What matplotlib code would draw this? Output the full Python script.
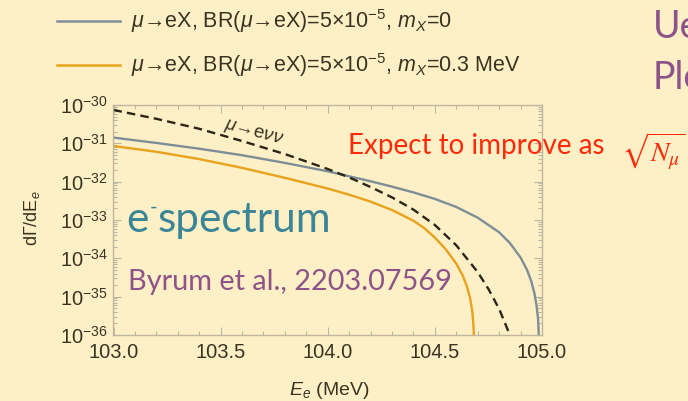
import matplotlib
matplotlib.use("Agg")
import matplotlib.pyplot as plt
import numpy as np
from matplotlib.lines import Line2D
from matplotlib.ticker import MultipleLocator, LogLocator, FormatStrFormatter, NullFormatter

# electron energy (MeV) and log10(dGamma/dE)
E_gray = [103.0, 103.2, 103.4, 103.6, 103.8, 104.0, 104.1, 104.2, 104.3, 104.4, 104.5,
          104.6, 104.7, 104.8, 104.85, 104.9, 104.93, 104.95, 104.965, 104.975, 104.982, 104.986]
logy_gray = [-30.85, -30.99, -31.14, -31.31, -31.51, -31.73, -31.86, -31.99, -32.13, -32.28, -32.45,
             -32.66, -32.94, -33.32, -33.60, -33.98, -34.30, -34.60, -34.92, -35.25, -35.6, -36.2]

E_orange = [103.0, 103.2, 103.4, 103.6, 103.8, 104.0, 104.1, 104.2, 104.3, 104.4, 104.45,
            104.5, 104.55, 104.6, 104.63, 104.65, 104.665, 104.675, 104.68, 104.684]
logy_orange = [-31.07, -31.22, -31.41, -31.64, -31.90, -32.18, -32.34, -32.52, -32.74, -33.02, -33.21,
               -33.46, -33.76, -34.14, -34.45, -34.74, -35.05, -35.40, -35.75, -36.3]

E_dio = [103.0, 103.2, 103.4, 103.6, 103.8, 104.0, 104.1, 104.2, 104.3, 104.4, 104.5,
         104.6, 104.7, 104.75, 104.8, 104.85, 104.86]
logy_dio = [-30.13, -30.36, -30.62, -30.94, -31.28, -31.67, -31.89, -32.14, -32.41, -32.73, -33.13,
            -33.66, -34.36, -34.80, -35.32, -36.0, -36.15]

legend_labels = [r"$\mu$→eX, BR($\mu$→eX)=5×10$^{-5}$, $m_X$=0",
                 r"$\mu$→eX, BR($\mu$→eX)=5×10$^{-5}$, $m_X$=0.3 MeV"]

bg = "#FEF0C6"
ink = "#3A3322"
frame = "#BDB6A0"
c_gray = "#7D8E97"
c_orange = "#E9A21C"
c_dash = "#2A2517"
teal = "#3B8597"
purple = "#8E5388"
red = "#FF2A0A"

plt.rcParams["font.family"] = ["Liberation Sans", "DejaVu Sans"]
plt.rcParams["mathtext.fontset"] = "custom"
plt.rcParams["mathtext.rm"] = "Liberation Sans"
plt.rcParams["mathtext.it"] = "Liberation Sans:italic"
plt.rcParams["mathtext.bf"] = "Liberation Sans:bold"

W, H = 688, 401
fig = plt.figure(figsize=(W / 100, H / 100), dpi=100)
fig.patch.set_facecolor(bg)


def fx(px):
    return px / W


def fy(py):
    return 1 - py / H


ax_l, ax_r, ax_t, ax_b = 113.5, 542, 105, 335
ax = fig.add_axes([fx(ax_l), fy(ax_b), (ax_r - ax_l) / W, (ax_b - ax_t) / H])
ax.set_facecolor(bg)

ax.plot(E_gray, 10.0 ** np.array(logy_gray), color=c_gray, lw=1.7)
ax.plot(E_orange, 10.0 ** np.array(logy_orange), color=c_orange, lw=1.7)
ax.plot(E_dio, 10.0 ** np.array(logy_dio), color=c_dash, lw=1.7, linestyle=(0, (3.6, 2.2)))

ax.set_yscale("log")
ax.set_xlim(103.0, 105.0)
ax.set_ylim(1e-36, 1e-30)

ax.xaxis.set_major_locator(MultipleLocator(0.5))
ax.xaxis.set_minor_locator(MultipleLocator(0.1))
ax.xaxis.set_major_formatter(FormatStrFormatter("%.1f"))
ax.yaxis.set_major_locator(LogLocator(base=10, numticks=20))
ax.yaxis.set_minor_locator(LogLocator(base=10, subs=np.arange(2, 10), numticks=20))
ax.yaxis.set_minor_formatter(NullFormatter())

ax.tick_params(which="both", direction="in", top=True, right=True, color=frame,
               width=0.8, labelsize=14.5, labelcolor=ink)
ax.tick_params(which="major", length=5.5)
ax.tick_params(which="minor", length=3)
ax.tick_params(axis="x", pad=6)
ax.tick_params(axis="y", pad=4)
for sp in ax.spines.values():
    sp.set_color(frame)
    sp.set_linewidth(1.0)

# curve label on the dashed line
ax.text(103.655, 10 ** -30.74, r"$\mu$→e$\nu\nu$", rotation=-15, ha="center", va="center",
        fontsize=13.5, color=ink)

fig.text(fx(32), fy(218), r"d$\Gamma$/dE$_e$", rotation=90, ha="center", va="center",
         fontsize=13, color=ink)
fig.text(fx(329), fy(395), r"$E_e$ (MeV)", ha="center", va="baseline", fontsize=14, color=ink)

# legend
for i, (col, lab) in enumerate(zip([c_gray, c_orange], legend_labels)):
    yl = 21.3 + 44 * i
    fig.add_artist(Line2D([fx(57), fx(120)], [fy(yl), fy(yl)], color=col, lw=1.8,
                          transform=fig.transFigure))
    fig.text(fx(131), fy(yl + 7), lab, ha="left", va="baseline", fontsize=15.5, color=ink)

# slide annotations
fig.text(fx(126), fy(231.7), "e", fontsize=30.5, color=teal, family="Lato", va="baseline")
fig.text(fx(150), fy(214), "-", fontsize=15, color=teal, family="Lato", va="baseline")
fig.text(fx(158), fy(231.7), "spectrum", fontsize=30.5, color=teal, family="Lato", va="baseline")
fig.text(fx(128), fy(290), "Byrum et al., 2203.07569", fontsize=20.8, color=purple,
         family="Lato", va="baseline")
fig.text(fx(348), fy(154), "Expect to improve as", fontsize=20, color=red,
         family="Lato", va="baseline")
fig.text(fx(621), fy(162), r"$\sqrt{N_{\mu}}$", fontsize=20, color=red,
         math_fontfamily="stix", va="baseline")
fig.text(fx(653), fy(38.3), "Ue", fontsize=27, color=purple, family="Lato", va="baseline")
fig.text(fx(653), fy(89), "Ple", fontsize=27, color=purple, family="Lato", va="baseline")

fig.savefig("out.png", dpi=100, facecolor=bg)
